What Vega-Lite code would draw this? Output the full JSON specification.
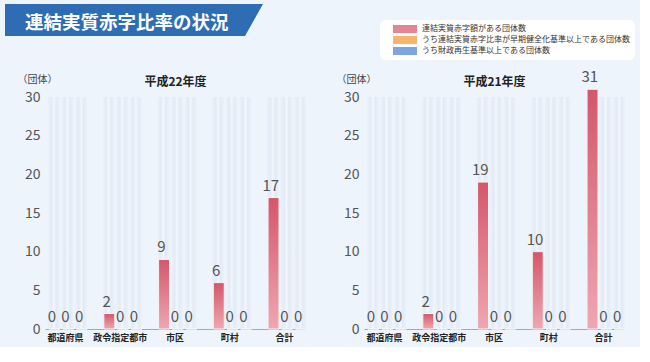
{
  "$schema": "https://vega.github.io/schema/vega-lite/v6.json",
  "background": "#edf4fc",
  "padding": {"left": 5, "top": 4, "right": 5, "bottom": 5},
  "config": {"font": "Noto Sans CJK JP", "view": {"stroke": null}},
  "datasets": {
    "h22": [
      {"cat": "都道府県", "s": "連結実質赤字額がある団体数", "v": 0},
      {"cat": "都道府県", "s": "うち連結実質赤字比率が早期健全化基準以上である団体数", "v": 0},
      {"cat": "都道府県", "s": "うち財政再生基準以上である団体数", "v": 0},
      {"cat": "政令指定都市", "s": "連結実質赤字額がある団体数", "v": 2},
      {"cat": "政令指定都市", "s": "うち連結実質赤字比率が早期健全化基準以上である団体数", "v": 0},
      {"cat": "政令指定都市", "s": "うち財政再生基準以上である団体数", "v": 0},
      {"cat": "市区", "s": "連結実質赤字額がある団体数", "v": 9},
      {"cat": "市区", "s": "うち連結実質赤字比率が早期健全化基準以上である団体数", "v": 0},
      {"cat": "市区", "s": "うち財政再生基準以上である団体数", "v": 0},
      {"cat": "町村", "s": "連結実質赤字額がある団体数", "v": 6},
      {"cat": "町村", "s": "うち連結実質赤字比率が早期健全化基準以上である団体数", "v": 0},
      {"cat": "町村", "s": "うち財政再生基準以上である団体数", "v": 0},
      {"cat": "合計", "s": "連結実質赤字額がある団体数", "v": 17},
      {"cat": "合計", "s": "うち連結実質赤字比率が早期健全化基準以上である団体数", "v": 0},
      {"cat": "合計", "s": "うち財政再生基準以上である団体数", "v": 0}
    ],
    "h21": [
      {"cat": "都道府県", "s": "連結実質赤字額がある団体数", "v": 0},
      {"cat": "都道府県", "s": "うち連結実質赤字比率が早期健全化基準以上である団体数", "v": 0},
      {"cat": "都道府県", "s": "うち財政再生基準以上である団体数", "v": 0},
      {"cat": "政令指定都市", "s": "連結実質赤字額がある団体数", "v": 2},
      {"cat": "政令指定都市", "s": "うち連結実質赤字比率が早期健全化基準以上である団体数", "v": 0},
      {"cat": "政令指定都市", "s": "うち財政再生基準以上である団体数", "v": 0},
      {"cat": "市区", "s": "連結実質赤字額がある団体数", "v": 19},
      {"cat": "市区", "s": "うち連結実質赤字比率が早期健全化基準以上である団体数", "v": 0},
      {"cat": "市区", "s": "うち財政再生基準以上である団体数", "v": 0},
      {"cat": "町村", "s": "連結実質赤字額がある団体数", "v": 10},
      {"cat": "町村", "s": "うち連結実質赤字比率が早期健全化基準以上である団体数", "v": 0},
      {"cat": "町村", "s": "うち財政再生基準以上である団体数", "v": 0},
      {"cat": "合計", "s": "連結実質赤字額がある団体数", "v": 31},
      {"cat": "合計", "s": "うち連結実質赤字比率が早期健全化基準以上である団体数", "v": 0},
      {"cat": "合計", "s": "うち財政再生基準以上である団体数", "v": 0}
    ],
    "banner": [
      {"bx": 0, "top": 32, "bot": 0},
      {"bx": 240, "top": 32, "bot": 0},
      {"bx": 258, "top": 32, "bot": 32}
    ],
    "bannerText": [
      {"bx": 20, "ty": 7, "t": "連結実質赤字比率の状況"}
    ]
  },
  "spacing": 34,
  "vconcat": [
    {
      "width": 218,
      "height": 32,
      "encoding": {
        "x": {"field": "bx", "type": "quantitative", "scale": {"domain": [40, 258], "nice": false, "zero": false}, "axis": null}
      },
      "layer": [
        {
          "data": {"name": "banner"},
          "mark": {"type": "area", "orient": "vertical", "color": "#2e6cb4"},
          "encoding": {
            "y": {"field": "top", "type": "quantitative", "scale": {"domain": [0, 32], "nice": false}, "axis": null},
            "y2": {"field": "bot"}
          }
        },
        {
          "data": {"name": "bannerText"},
          "mark": {"type": "text", "align": "left", "baseline": "alphabetic", "color": "#ffffff", "fontSize": 18.5, "fontWeight": "bold"},
          "encoding": {
            "y": {"field": "ty", "type": "quantitative", "axis": null},
            "text": {"field": "t"}
          }
        }
      ]
    },
    {
      "spacing": 29,
      "hconcat": [
        {
          "width": 260,
          "height": 232,
          "data": {"name": "h22"},
          "resolve": {"axis": {"x": "independent"}},
          "encoding": {
            "xOffset": {"field": "s", "type": "nominal", "sort": ["連結実質赤字額がある団体数", "うち連結実質赤字比率が早期健全化基準以上である団体数", "うち財政再生基準以上である団体数"], "scale": {"paddingInner": 0, "paddingOuter": 0}}
          },
          "layer": [
            {
              "mark": {"type": "bar", "width": {"band": 0.85}, "fillOpacity": 0.5, "color": {"gradient": "linear", "x1": 0, "y1": 0, "x2": 1, "y2": 0, "stops": [{"offset": 0, "color": "#e7eef8"}, {"offset": 0.3, "color": "#d7e1ef"}, {"offset": 0.5, "color": "#f7fafe"}, {"offset": 0.7, "color": "#d7e1ef"}, {"offset": 1, "color": "#e7eef8"}]}},
              "encoding": {
                "x": {"field": "cat", "type": "nominal", "sort": ["都道府県", "政令指定都市", "市区", "町村", "合計"], "scale": {"paddingInner": 0.25, "paddingOuter": 0},
                  "axis": {"orient": "top", "labels": false, "ticks": false, "domain": false, "grid": false, "title": "平成22年度", "titleY": -12, "titleBaseline": "alphabetic", "titleFontSize": 12, "titleFontWeight": "bold", "titleColor": "#222222"}},
                "y": {"datum": 30, "type": "quantitative", "scale": {"domain": [0, 30], "nice": false}, "axis": {"title": "（団体）", "titleAngle": 0, "titleX": -28, "titleY": -15, "titleAlign": "left", "titleBaseline": "alphabetic", "titleFontSize": 10, "titleFontWeight": "normal", "titleColor": "#444444", "values": [0, 5, 10, 15, 20, 25, 30], "labelFontSize": 14, "labelColor": "#555555", "labelPadding": 5, "ticks": false, "domain": false, "gridColor": "#d3dbe6"}},
                "y2": {"datum": 0}
              }
            },
            {
              "mark": {"type": "bar", "width": {"band": 0.8}},
              "encoding": {
                "x": {"field": "cat", "type": "nominal", "sort": ["都道府県", "政令指定都市", "市区", "町村", "合計"], "axis": null},
                "y": {"field": "v", "type": "quantitative", "scale": {"domain": [0, 30], "nice": false}, "axis": {"title": "（団体）", "titleAngle": 0, "titleX": -28, "titleY": -15, "titleAlign": "left", "titleBaseline": "alphabetic", "titleFontSize": 10, "titleFontWeight": "normal", "titleColor": "#444444", "values": [0, 5, 10, 15, 20, 25, 30], "labelFontSize": 14, "labelColor": "#555555", "labelPadding": 5, "ticks": false, "domain": false, "gridColor": "#d3dbe6"}},
                "color": {"field": "s", "type": "nominal",
                  "scale": {"domain": ["連結実質赤字額がある団体数", "うち連結実質赤字比率が早期健全化基準以上である団体数", "うち財政再生基準以上である団体数"], "range": ["#e48593", "#f6b46c", "#7ea5df"]},
                  "legend": {"orient": "none", "legendX": 335, "legendY": 16, "title": null, "direction": "vertical", "fillColor": "#ffffff", "cornerRadius": 6, "padding": 5, "symbolType": "M-3,-1H3V1H-3Z", "symbolSize": 64, "symbolOffset": 16, "labelOffset": 13, "rowPadding": 3, "labelFontSize": 8, "labelColor": "#333333", "labelLimit": 400, "symbolStrokeWidth": 0}}
              }
            },
            {
              "mark": {"type": "bar", "width": {"band": 0.8}, "stroke": "#f6f6f6", "strokeWidth": 1, "color": {"gradient": "linear", "x1": 0, "y1": 0, "x2": 0, "y2": 1, "stops": [{"offset": 0, "color": "#d5566a"}, {"offset": 1, "color": "#eea7b2"}]}},
              "encoding": {
                "x": {"field": "cat", "type": "nominal", "sort": ["都道府県", "政令指定都市", "市区", "町村", "合計"],
                  "axis": {"title": null, "labelAngle": 0, "labelFontSize": 9, "labelFontWeight": "bold", "labelColor": "#222222", "labelPadding": 4, "ticks": false, "domainColor": "#a8a8a8", "domainWidth": 1, "grid": false}},
                "y": {"field": "v", "type": "quantitative", "scale": {"domain": [0, 30], "nice": false}, "axis": {"title": "（団体）", "titleAngle": 0, "titleX": -28, "titleY": -15, "titleAlign": "left", "titleBaseline": "alphabetic", "titleFontSize": 10, "titleFontWeight": "normal", "titleColor": "#444444", "values": [0, 5, 10, 15, 20, 25, 30], "labelFontSize": 14, "labelColor": "#555555", "labelPadding": 5, "ticks": false, "domain": false, "gridColor": "#d3dbe6"}}
              }
            },
            {
              "mark": {"type": "text", "dy": -7, "baseline": "alphabetic", "fontSize": 15, "color": "#555555"},
              "encoding": {
                "x": {"field": "cat", "type": "nominal", "sort": ["都道府県", "政令指定都市", "市区", "町村", "合計"], "axis": null},
                "y": {"field": "v", "type": "quantitative", "scale": {"domain": [0, 30], "nice": false}, "axis": {"title": "（団体）", "titleAngle": 0, "titleX": -28, "titleY": -15, "titleAlign": "left", "titleBaseline": "alphabetic", "titleFontSize": 10, "titleFontWeight": "normal", "titleColor": "#444444", "values": [0, 5, 10, 15, 20, 25, 30], "labelFontSize": 14, "labelColor": "#555555", "labelPadding": 5, "ticks": false, "domain": false, "gridColor": "#d3dbe6"}},
                "text": {"field": "v", "type": "quantitative"}
              }
            }
          ]
        },
        {
          "width": 260,
          "height": 232,
          "data": {"name": "h21"},
          "resolve": {"axis": {"x": "independent"}},
          "encoding": {
            "xOffset": {"field": "s", "type": "nominal", "sort": ["連結実質赤字額がある団体数", "うち連結実質赤字比率が早期健全化基準以上である団体数", "うち財政再生基準以上である団体数"], "scale": {"paddingInner": 0, "paddingOuter": 0}}
          },
          "layer": [
            {
              "mark": {"type": "bar", "width": {"band": 0.85}, "fillOpacity": 0.5, "color": {"gradient": "linear", "x1": 0, "y1": 0, "x2": 1, "y2": 0, "stops": [{"offset": 0, "color": "#e7eef8"}, {"offset": 0.3, "color": "#d7e1ef"}, {"offset": 0.5, "color": "#f7fafe"}, {"offset": 0.7, "color": "#d7e1ef"}, {"offset": 1, "color": "#e7eef8"}]}},
              "encoding": {
                "x": {"field": "cat", "type": "nominal", "sort": ["都道府県", "政令指定都市", "市区", "町村", "合計"], "scale": {"paddingInner": 0.25, "paddingOuter": 0},
                  "axis": {"orient": "top", "labels": false, "ticks": false, "domain": false, "grid": false, "title": "平成21年度", "titleY": -12, "titleBaseline": "alphabetic", "titleFontSize": 12, "titleFontWeight": "bold", "titleColor": "#222222"}},
                "y": {"datum": 30, "type": "quantitative", "scale": {"domain": [0, 30], "nice": false}, "axis": {"title": "（団体）", "titleAngle": 0, "titleX": -28, "titleY": -15, "titleAlign": "left", "titleBaseline": "alphabetic", "titleFontSize": 10, "titleFontWeight": "normal", "titleColor": "#444444", "values": [0, 5, 10, 15, 20, 25, 30], "labelFontSize": 14, "labelColor": "#555555", "labelPadding": 5, "ticks": false, "domain": false, "gridColor": "#d3dbe6"}},
                "y2": {"datum": 0}
              }
            },
            {
              "mark": {"type": "bar", "width": {"band": 0.8}},
              "encoding": {
                "x": {"field": "cat", "type": "nominal", "sort": ["都道府県", "政令指定都市", "市区", "町村", "合計"], "axis": null},
                "y": {"field": "v", "type": "quantitative", "scale": {"domain": [0, 30], "nice": false}, "axis": {"title": "（団体）", "titleAngle": 0, "titleX": -28, "titleY": -15, "titleAlign": "left", "titleBaseline": "alphabetic", "titleFontSize": 10, "titleFontWeight": "normal", "titleColor": "#444444", "values": [0, 5, 10, 15, 20, 25, 30], "labelFontSize": 14, "labelColor": "#555555", "labelPadding": 5, "ticks": false, "domain": false, "gridColor": "#d3dbe6"}},
                "color": {"field": "s", "type": "nominal",
                  "scale": {"domain": ["連結実質赤字額がある団体数", "うち連結実質赤字比率が早期健全化基準以上である団体数", "うち財政再生基準以上である団体数"], "range": ["#e48593", "#f6b46c", "#7ea5df"]},
                  "legend": {"orient": "none", "legendX": 335, "legendY": 16, "title": null, "direction": "vertical", "fillColor": "#ffffff", "cornerRadius": 6, "padding": 5, "symbolType": "M-3,-1H3V1H-3Z", "symbolSize": 64, "symbolOffset": 16, "labelOffset": 13, "rowPadding": 3, "labelFontSize": 8, "labelColor": "#333333", "labelLimit": 400, "symbolStrokeWidth": 0}}
              }
            },
            {
              "mark": {"type": "bar", "width": {"band": 0.8}, "stroke": "#f6f6f6", "strokeWidth": 1, "color": {"gradient": "linear", "x1": 0, "y1": 0, "x2": 0, "y2": 1, "stops": [{"offset": 0, "color": "#d5566a"}, {"offset": 1, "color": "#eea7b2"}]}},
              "encoding": {
                "x": {"field": "cat", "type": "nominal", "sort": ["都道府県", "政令指定都市", "市区", "町村", "合計"],
                  "axis": {"title": null, "labelAngle": 0, "labelFontSize": 9, "labelFontWeight": "bold", "labelColor": "#222222", "labelPadding": 4, "ticks": false, "domainColor": "#a8a8a8", "domainWidth": 1, "grid": false}},
                "y": {"field": "v", "type": "quantitative", "scale": {"domain": [0, 30], "nice": false}, "axis": {"title": "（団体）", "titleAngle": 0, "titleX": -28, "titleY": -15, "titleAlign": "left", "titleBaseline": "alphabetic", "titleFontSize": 10, "titleFontWeight": "normal", "titleColor": "#444444", "values": [0, 5, 10, 15, 20, 25, 30], "labelFontSize": 14, "labelColor": "#555555", "labelPadding": 5, "ticks": false, "domain": false, "gridColor": "#d3dbe6"}}
              }
            },
            {
              "mark": {"type": "text", "dy": -7, "baseline": "alphabetic", "fontSize": 15, "color": "#555555"},
              "encoding": {
                "x": {"field": "cat", "type": "nominal", "sort": ["都道府県", "政令指定都市", "市区", "町村", "合計"], "axis": null},
                "y": {"field": "v", "type": "quantitative", "scale": {"domain": [0, 30], "nice": false}, "axis": {"title": "（団体）", "titleAngle": 0, "titleX": -28, "titleY": -15, "titleAlign": "left", "titleBaseline": "alphabetic", "titleFontSize": 10, "titleFontWeight": "normal", "titleColor": "#444444", "values": [0, 5, 10, 15, 20, 25, 30], "labelFontSize": 14, "labelColor": "#555555", "labelPadding": 5, "ticks": false, "domain": false, "gridColor": "#d3dbe6"}},
                "text": {"field": "v", "type": "quantitative"}
              }
            }
          ]
        }
      ]
    }
  ]
}
